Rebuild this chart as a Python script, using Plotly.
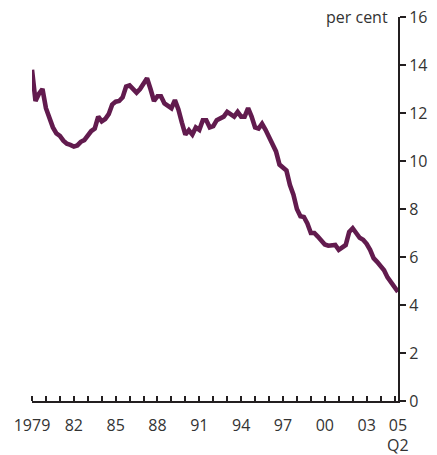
import plotly.graph_objects as go

# Quarterly series, 1979 Q1 to 2005 Q2 (per cent)
QUARTERS = list(range(106))
RATE = [
    13.8, 12.5, 12.8, 13.0,    # 1979
    12.2, 11.75, 11.4, 11.15,  # 1980
    11.05, 10.85, 10.72, 10.67,  # 1981
    10.6, 10.65, 10.8, 10.87,  # 1982
    11.05, 11.25, 11.35, 11.85,  # 1983
    11.65, 11.75, 11.95, 12.35,  # 1984
    12.47, 12.5, 12.65, 13.1,  # 1985
    13.15, 13.0, 12.85, 13.0,  # 1986
    13.25, 13.45, 13.0, 12.5,  # 1987
    12.7, 12.7, 12.4, 12.3,    # 1988
    12.2, 12.54, 12.15, 11.6,  # 1989
    11.1, 11.28, 11.1, 11.4,   # 1990
    11.3, 11.7, 11.7, 11.4,    # 1991
    11.45, 11.7, 11.75, 11.85,  # 1992
    12.05, 11.95, 11.85, 12.05,  # 1993
    11.85, 11.85, 12.2, 11.85,  # 1994
    11.4, 11.35, 11.55, 11.3,  # 1995
    11.0, 10.8, 10.4, 9.85,    # 1996
    9.75, 9.6, 9.0, 8.6,       # 1997
    8.0, 7.7, 7.67, 7.4,       # 1998
    7.0, 7.0, 6.85, 6.65,      # 1999
    6.52, 6.47, 6.5, 6.5,      # 2000
    6.3, 6.4, 6.5, 7.05,       # 2001
    7.2, 7.0, 6.8, 6.72,       # 2002
    6.55, 6.3, 5.95, 5.8,      # 2003
    5.6, 5.45, 5.15, 4.95,     # 2004
    4.7, 4.55,                 # 2005
]

LABEL_POS = [0, 12, 24, 36, 48, 60, 72, 84, 96, 105]
LABEL_TEXT = ["1979", "82", "85", "88", "91", "94", "97", "00", "03", "05"]
YEAR_TICKS = list(range(0, 105, 4))

INK = "#231f20"
TEXT = "#333333"
FONT = "Open Sans"

fig = go.Figure()
fig.add_trace(go.Scatter(
    x=QUARTERS, y=RATE, mode="lines",
    line=dict(color="#621b4e", width=4.6),
    hoverinfo="skip",
))

fig.update_xaxes(
    range=[0, 105], automargin=False,
    tickmode="array", tickvals=LABEL_POS, ticktext=LABEL_TEXT,
    ticks="", showgrid=False, zeroline=False,
    showline=True, linecolor=INK, linewidth=2,
    tickfont=dict(family=FONT, size=16, color=TEXT),
    ticklabelstandoff=9, ticklabeloverflow="allow",
    minor=dict(tickmode="array", tickvals=YEAR_TICKS, ticks="inside",
               ticklen=5, tickwidth=2, tickcolor=INK, showgrid=False),
)
fig.update_yaxes(
    range=[0, 16], dtick=2, side="right", automargin=False,
    ticks="outside", ticklen=6, tickwidth=2, tickcolor=INK,
    showgrid=False, zeroline=False, ticklabeloverflow="allow",
    showline=True, linecolor=INK, linewidth=2,
    tickfont=dict(family=FONT, size=16, color=TEXT),
)

fig.add_annotation(
    text="per cent", xref="paper", yref="y", x=1, y=16,
    xanchor="right", yanchor="middle", xshift=-8, showarrow=False,
    font=dict(family=FONT, size=16, color=TEXT),
)
fig.add_annotation(
    text="Q2", xref="x", yref="paper", x=105, y=0,
    xanchor="center", yanchor="middle", yshift=-44, showarrow=False,
    font=dict(family=FONT, size=16, color=TEXT),
)

fig.update_layout(
    width=437, height=455,
    margin=dict(l=32, r=39, t=17, b=54),
    plot_bgcolor="white", paper_bgcolor="white",
    showlegend=False,
)

# drop the default body margin so the figure fills the window exactly
fig.write_html("out.html", config={"displayModeBar": False},
               post_script="document.body.style.margin='0px';")
